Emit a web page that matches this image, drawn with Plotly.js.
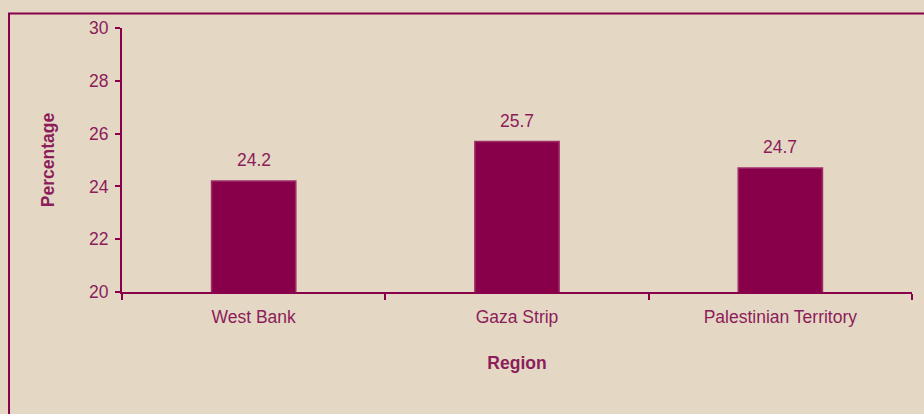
<!DOCTYPE html>
<html>
<head>
<meta charset="utf-8">
<script src="https://cdn.plot.ly/plotly-3.0.1.min.js"></script>
<style>html,body{margin:0;padding:0;background:#E4D8C5;}#chart{width:924px;height:414px;}</style>
</head>
<body>
<div id="chart"></div>
<script>
const regions = ["West Bank", "Gaza Strip", "Palestinian Territory"];
const percentages = [24.2, 25.7, 24.7];
const yTicks = [20, 22, 24, 26, 28, 30];

const maroon = "#880049";
const textCol = "#8C1C5A";
const fs = 17.5;

const trace = {
  type: "bar",
  x: regions,
  y: percentages,
  marker: {color: maroon, line: {color: "#9E2E68", width: 1.5}},
  width: 0.32,
  hoverinfo: "x+y"
};

const annotations = regions.map((r, i) => ({
  x: r, y: percentages[i], xref: "x", yref: "y",
  text: percentages[i].toFixed(1), showarrow: false,
  yanchor: "bottom", yshift: 9,
  font: {size: fs, color: textCol}
}));

const layout = {
  width: 924, height: 414,
  margin: {l: 122, r: 12, t: 28, b: 122},
  paper_bgcolor: "#E4D8C5",
  plot_bgcolor: "#E4D8C5",
  showlegend: false,
  font: {family: "Liberation Sans, Arial, sans-serif", size: fs, color: textCol},
  xaxis: {
    showgrid: false, zeroline: false,
    showline: true, linecolor: maroon, linewidth: 2,
    ticks: "outside", tickson: "boundaries", ticklen: 6, tickwidth: 2, tickcolor: maroon,
    ticklabelstandoff: 8,
    tickfont: {size: fs, color: textCol},
    title: {text: "<b>Region</b>", font: {size: fs, color: textCol}, standoff: 31}
  },
  yaxis: {
    range: [20, 30],
    tickvals: yTicks,
    showgrid: false, zeroline: false,
    showline: true, linecolor: maroon, linewidth: 2,
    ticks: "outside", ticklen: 5, tickwidth: 2, tickcolor: maroon,
    ticklabelstandoff: 3,
    tickfont: {size: fs, color: textCol},
    title: {text: "<b>Percentage</b>", font: {size: fs, color: textCol}, standoff: 30}
  },
  annotations: annotations,
  shapes: [{
    type: "rect", xref: "paper", yref: "paper",
    x0: -0.143, x1: 1.2, y0: -0.7, y1: 1.0549,
    line: {color: maroon, width: 2}, fillcolor: "rgba(0,0,0,0)", layer: "below"
  }]
};

Plotly.newPlot("chart", [trace], layout, {displayModeBar: false, staticPlot: true});
</script>
</body>
</html>
